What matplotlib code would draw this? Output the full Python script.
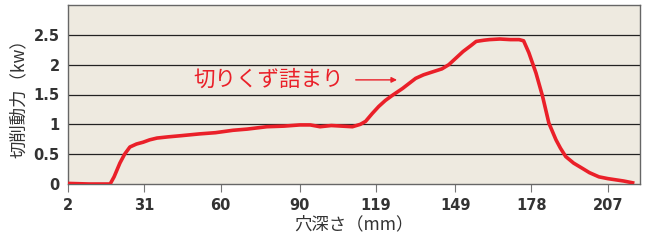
import matplotlib
matplotlib.use("Agg")
import matplotlib.pyplot as plt

plt.rcParams['font.family'] = ['Noto Sans CJK JP', 'DejaVu Sans']

# hole depth (mm) and cutting power (kW)
depth = [2, 10, 18, 19.5, 21.7, 23.5, 25.5, 28, 30.5, 33, 35.8, 40, 45, 52, 58,
         64.6, 70, 77.5, 84, 90, 94, 97.7, 102, 106, 110, 113, 115, 117.5, 120,
         122.5, 125.3, 129, 134, 137, 140.5, 144, 146.6, 149.3, 152, 155, 157,
         160, 162, 166, 170, 173.3, 175, 177, 179.7, 182.2, 184.6, 187.3, 189,
         191, 194, 197.4, 200, 203.6, 207, 210, 213, 216.4]
power = [0.01, 0.0, 0.0, 0.12, 0.35, 0.5, 0.62, 0.67, 0.70, 0.74, 0.77, 0.79,
         0.81, 0.84, 0.86, 0.90, 0.92, 0.96, 0.97, 0.99, 0.99, 0.96, 0.98, 0.97,
         0.96, 1.0, 1.05, 1.18, 1.30, 1.40, 1.49, 1.60, 1.77, 1.83, 1.88, 1.93,
         2.0, 2.11, 2.22, 2.32, 2.39, 2.41, 2.42, 2.43, 2.42, 2.42, 2.40, 2.2,
         1.86, 1.47, 1.02, 0.74, 0.6, 0.46, 0.35, 0.26, 0.19, 0.12, 0.09, 0.07,
         0.05, 0.02]

xticks = [2, 31, 60, 90, 119, 149, 178, 207]
yticks = [0, 0.5, 1, 1.5, 2, 2.5]
ytick_labels = ["0", "0.5", "1", "1.5", "2", "2.5"]

red = "#ea2029"
dark = "#333333"

fig = plt.figure(figsize=(6.46, 2.41), dpi=100)
ax = fig.add_axes([68 / 646, 1 - 184 / 241, 572 / 646, 179 / 241])
ax.set_facecolor("#eeeae0")

ax.plot(depth, power, color=red, lw=2.6, solid_joinstyle="round", zorder=3)

ax.set_xlim(2, 219.2)
ax.set_ylim(0, 3.0)
ax.set_xticks(xticks)
ax.set_xticklabels([str(t) for t in xticks], fontweight="bold", fontsize=10.5,
                   color=dark, family=["DejaVu Sans"])
ax.set_yticks(yticks)
ax.set_yticklabels(ytick_labels, fontweight="bold", fontsize=10.5, color=dark,
                   family=["DejaVu Sans"])
ax.tick_params(axis="y", length=0, pad=6)
ax.tick_params(axis="x", length=6, color="#777777", pad=4, direction="out")

for y in yticks[1:]:
    ax.axhline(y, color="#222222", lw=0.9, zorder=1)

for s in ax.spines.values():
    s.set_color("#666666")
    s.set_linewidth(1.0)

ax.set_xlabel("穴深さ（mm）", fontsize=12.5, color=dark, labelpad=2)
ax.set_ylabel("切削動力（kw）", fontsize=12.5, color=dark, labelpad=4)

ax.text(78, 1.745, "切りくず詰まり", color=red, fontsize=15.5,
        ha="center", va="center")
ax.annotate("", xy=(128, 1.745), xytext=(110.2, 1.745),
            arrowprops=dict(arrowstyle="-|>", color=red, lw=1.0,
                            mutation_scale=8))

fig.savefig("out.png", dpi=100)
